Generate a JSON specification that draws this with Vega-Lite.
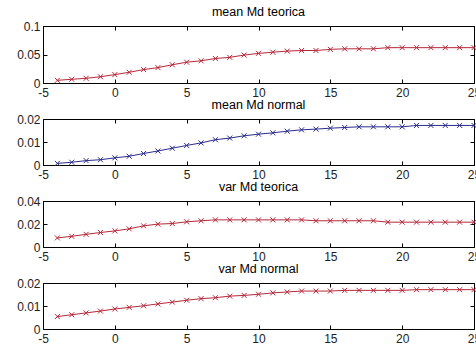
{
  "$schema": "https://vega.github.io/schema/vega-lite/v6.json",
  "background": "white",
  "padding": {"left": 16, "top": 5, "right": 0, "bottom": 4},
  "config": {
    "view": {"stroke": "#000", "strokeWidth": 1},
    "font": "Liberation Sans",
    "axis": {"domain": false, "grid": false, "tickSize": -4, "tickColor": "#000", "labelFont": "Liberation Sans", "labelFontSize": 12, "labelColor": "#222", "labelPadding": 7, "labelFlush": false, "labelOverlap": false, "title": null},
    "axisBottom": {"labelPadding": 8},
    "title": {"fontSize": 12.5, "fontWeight": "normal", "color": "#000", "offset": 2, "font": "Liberation Sans"}
  },
  "data": {"values": [
    {"x": -4, "mt": 0.0047, "mn": 0.0007, "vt": 0.0079, "vn": 0.0054},
    {"x": -3, "mt": 0.0065, "mn": 0.0012, "vt": 0.0093, "vn": 0.0062},
    {"x": -2, "mt": 0.0082, "mn": 0.0019, "vt": 0.011, "vn": 0.007},
    {"x": -1, "mt": 0.011, "mn": 0.0023, "vt": 0.0126, "vn": 0.0078},
    {"x": 0, "mt": 0.0147, "mn": 0.0031, "vt": 0.014, "vn": 0.0087},
    {"x": 1, "mt": 0.0188, "mn": 0.0038, "vt": 0.0158, "vn": 0.0094},
    {"x": 2, "mt": 0.0235, "mn": 0.005, "vt": 0.0184, "vn": 0.0101},
    {"x": 3, "mt": 0.027, "mn": 0.0061, "vt": 0.0199, "vn": 0.0109},
    {"x": 4, "mt": 0.032, "mn": 0.0073, "vt": 0.0204, "vn": 0.0117},
    {"x": 5, "mt": 0.0365, "mn": 0.0085, "vt": 0.0219, "vn": 0.0125},
    {"x": 6, "mt": 0.039, "mn": 0.0096, "vt": 0.0228, "vn": 0.0132},
    {"x": 7, "mt": 0.043, "mn": 0.011, "vt": 0.0236, "vn": 0.0136},
    {"x": 8, "mt": 0.045, "mn": 0.0117, "vt": 0.0236, "vn": 0.0143},
    {"x": 9, "mt": 0.049, "mn": 0.0127, "vt": 0.0236, "vn": 0.0146},
    {"x": 10, "mt": 0.052, "mn": 0.0134, "vt": 0.0236, "vn": 0.0151},
    {"x": 11, "mt": 0.054, "mn": 0.014, "vt": 0.0236, "vn": 0.0157},
    {"x": 12, "mt": 0.056, "mn": 0.0147, "vt": 0.0236, "vn": 0.0161},
    {"x": 13, "mt": 0.057, "mn": 0.0153, "vt": 0.0236, "vn": 0.0165},
    {"x": 14, "mt": 0.057, "mn": 0.0156, "vt": 0.0228, "vn": 0.0165},
    {"x": 15, "mt": 0.059, "mn": 0.016, "vt": 0.0228, "vn": 0.0165},
    {"x": 16, "mt": 0.06, "mn": 0.0163, "vt": 0.0228, "vn": 0.0168},
    {"x": 17, "mt": 0.06, "mn": 0.0166, "vt": 0.0228, "vn": 0.0168},
    {"x": 18, "mt": 0.06, "mn": 0.0166, "vt": 0.0228, "vn": 0.0168},
    {"x": 19, "mt": 0.062, "mn": 0.0166, "vt": 0.0216, "vn": 0.0168},
    {"x": 20, "mt": 0.062, "mn": 0.0166, "vt": 0.0216, "vn": 0.0168},
    {"x": 21, "mt": 0.062, "mn": 0.0172, "vt": 0.0216, "vn": 0.0171},
    {"x": 22, "mt": 0.062, "mn": 0.0172, "vt": 0.0216, "vn": 0.0171},
    {"x": 23, "mt": 0.062, "mn": 0.0172, "vt": 0.0216, "vn": 0.0171},
    {"x": 24, "mt": 0.062, "mn": 0.0172, "vt": 0.0216, "vn": 0.0171},
    {"x": 25, "mt": 0.062, "mn": 0.0172, "vt": 0.0216, "vn": 0.0171}
  ]},
  "bounds": "flush",
  "spacing": 36,
  "vconcat": [
    {
      "width": 431, "height": 57,
      "title": "mean Md teorica",
      "layer": [
        {"mark": {"type": "line", "color": "#b5283a", "strokeWidth": 1},
         "encoding": {
           "x": {"field": "x", "type": "quantitative", "scale": {"domain": [-5, 25], "nice": false, "zero": false}, "axis": {"orient": "bottom", "values": [-5, 0, 5, 10, 15, 20, 25], "labelExpr": "'' + datum.value"}},
           "y": {"field": "mt", "type": "quantitative", "scale": {"domain": [0, 0.1], "nice": false}, "axis": {"orient": "left", "values": [0, 0.05, 0.1], "labelExpr": "'' + datum.value"}}
         }},
        {"mark": {"type": "point", "shape": "M-1,-1L1,1M-1,1L1,-1", "filled": false, "color": "#b5283a", "size": 25, "strokeWidth": 1, "opacity": 1},
         "encoding": {
           "x": {"field": "x", "type": "quantitative", "scale": {"domain": [-5, 25], "nice": false, "zero": false}, "axis": {"orient": "top", "values": [-5, 0, 5, 10, 15, 20, 25], "labels": false}},
           "y": {"field": "mt", "type": "quantitative", "scale": {"domain": [0, 0.1], "nice": false}, "axis": {"orient": "right", "values": [0, 0.05, 0.1], "labels": false}}
         }}
      ],
      "resolve": {"axis": {"x": "independent", "y": "independent"}}
    },
    {
      "width": 431, "height": 46,
      "title": "mean Md normal",
      "layer": [
        {"mark": {"type": "line", "color": "#2b2b8c", "strokeWidth": 1},
         "encoding": {
           "x": {"field": "x", "type": "quantitative", "scale": {"domain": [-5, 25], "nice": false, "zero": false}, "axis": {"orient": "bottom", "values": [-5, 0, 5, 10, 15, 20, 25], "labelExpr": "'' + datum.value"}},
           "y": {"field": "mn", "type": "quantitative", "scale": {"domain": [0, 0.02], "nice": false}, "axis": {"orient": "left", "values": [0, 0.01, 0.02], "labelExpr": "'' + datum.value"}}
         }},
        {"mark": {"type": "point", "shape": "M-1,-1L1,1M-1,1L1,-1", "filled": false, "color": "#2b2b8c", "size": 25, "strokeWidth": 1, "opacity": 1},
         "encoding": {
           "x": {"field": "x", "type": "quantitative", "scale": {"domain": [-5, 25], "nice": false, "zero": false}, "axis": {"orient": "top", "values": [-5, 0, 5, 10, 15, 20, 25], "labels": false}},
           "y": {"field": "mn", "type": "quantitative", "scale": {"domain": [0, 0.02], "nice": false}, "axis": {"orient": "right", "values": [0, 0.01, 0.02], "labels": false}}
         }}
      ],
      "resolve": {"axis": {"x": "independent", "y": "independent"}}
    },
    {
      "width": 431, "height": 46,
      "title": "var Md teorica",
      "layer": [
        {"mark": {"type": "line", "color": "#b5283a", "strokeWidth": 1},
         "encoding": {
           "x": {"field": "x", "type": "quantitative", "scale": {"domain": [-5, 25], "nice": false, "zero": false}, "axis": {"orient": "bottom", "values": [-5, 0, 5, 10, 15, 20, 25], "labelExpr": "'' + datum.value"}},
           "y": {"field": "vt", "type": "quantitative", "scale": {"domain": [0, 0.04], "nice": false}, "axis": {"orient": "left", "values": [0, 0.02, 0.04], "labelExpr": "'' + datum.value"}}
         }},
        {"mark": {"type": "point", "shape": "M-1,-1L1,1M-1,1L1,-1", "filled": false, "color": "#b5283a", "size": 25, "strokeWidth": 1, "opacity": 1},
         "encoding": {
           "x": {"field": "x", "type": "quantitative", "scale": {"domain": [-5, 25], "nice": false, "zero": false}, "axis": {"orient": "top", "values": [-5, 0, 5, 10, 15, 20, 25], "labels": false}},
           "y": {"field": "vt", "type": "quantitative", "scale": {"domain": [0, 0.04], "nice": false}, "axis": {"orient": "right", "values": [0, 0.02, 0.04], "labels": false}}
         }}
      ],
      "resolve": {"axis": {"x": "independent", "y": "independent"}}
    },
    {
      "width": 431, "height": 46,
      "title": "var Md normal",
      "layer": [
        {"mark": {"type": "line", "color": "#b5283a", "strokeWidth": 1},
         "encoding": {
           "x": {"field": "x", "type": "quantitative", "scale": {"domain": [-5, 25], "nice": false, "zero": false}, "axis": {"orient": "bottom", "values": [-5, 0, 5, 10, 15, 20, 25], "labelExpr": "'' + datum.value"}},
           "y": {"field": "vn", "type": "quantitative", "scale": {"domain": [0, 0.02], "nice": false}, "axis": {"orient": "left", "values": [0, 0.01, 0.02], "labelExpr": "'' + datum.value"}}
         }},
        {"mark": {"type": "point", "shape": "M-1,-1L1,1M-1,1L1,-1", "filled": false, "color": "#b5283a", "size": 25, "strokeWidth": 1, "opacity": 1},
         "encoding": {
           "x": {"field": "x", "type": "quantitative", "scale": {"domain": [-5, 25], "nice": false, "zero": false}, "axis": {"orient": "top", "values": [-5, 0, 5, 10, 15, 20, 25], "labels": false}},
           "y": {"field": "vn", "type": "quantitative", "scale": {"domain": [0, 0.02], "nice": false}, "axis": {"orient": "right", "values": [0, 0.01, 0.02], "labels": false}}
         }}
      ],
      "resolve": {"axis": {"x": "independent", "y": "independent"}}
    }
  ]
}
